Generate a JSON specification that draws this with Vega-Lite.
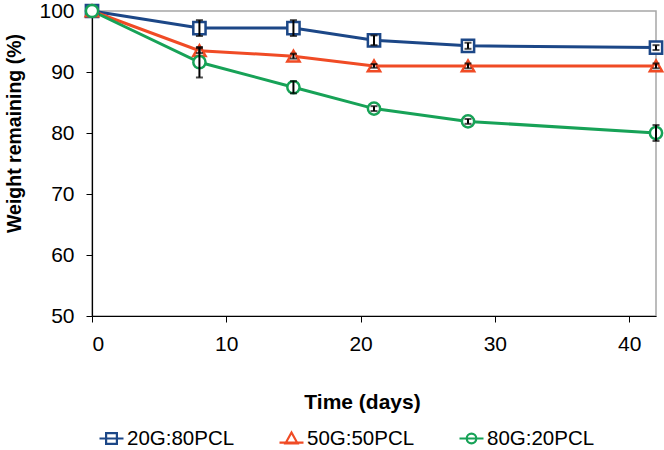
{
  "$schema": "https://vega.github.io/schema/vega-lite/v6.json",
  "width": 564,
  "height": 305,
  "autosize": "none",
  "padding": {"left": 92, "top": 11, "right": 8, "bottom": 134},
  "background": "white",
  "config": {
    "font": "Liberation Sans",
    "view": {"stroke": "#a6a6a6", "strokeWidth": 1.5},
    "axis": {
      "domainColor": "#000000",
      "domainWidth": 1.2,
      "tickColor": "#000000",
      "tickSize": 6,
      "grid": false,
      "labelFont": "Liberation Sans",
      "labelFontSize": 21,
      "labelColor": "#000000",
      "titleFont": "Liberation Sans",
      "titleFontWeight": "bold",
      "titleColor": "#000000"
    },
    "legend": {
      "labelFont": "Liberation Sans",
      "labelFontSize": 20.5,
      "labelColor": "#000000"
    }
  },
  "data": {
    "values": [
      {"series": "20G:80PCL", "day": 0, "w": 100, "err": 0},
      {"series": "20G:80PCL", "day": 8, "w": 97.2, "err": 1.3},
      {"series": "20G:80PCL", "day": 15, "w": 97.2, "err": 1.3},
      {"series": "20G:80PCL", "day": 21, "w": 95.2, "err": 0.8},
      {"series": "20G:80PCL", "day": 28, "w": 94.3, "err": 0.5},
      {"series": "20G:80PCL", "day": 42, "w": 94.0, "err": 0.4},
      {"series": "50G:50PCL", "day": 0, "w": 100, "err": 0},
      {"series": "50G:50PCL", "day": 8, "w": 93.5, "err": 0.4},
      {"series": "50G:50PCL", "day": 15, "w": 92.6, "err": 0.4},
      {"series": "50G:50PCL", "day": 21, "w": 91.0, "err": 0.3},
      {"series": "50G:50PCL", "day": 28, "w": 91.0, "err": 0.4},
      {"series": "50G:50PCL", "day": 42, "w": 91.0, "err": 0.4},
      {"series": "80G:20PCL", "day": 0, "w": 100, "err": 0},
      {"series": "80G:20PCL", "day": 8, "w": 91.6, "err": 2.5},
      {"series": "80G:20PCL", "day": 15, "w": 87.5, "err": 1.0},
      {"series": "80G:20PCL", "day": 21, "w": 84.0, "err": 0.4},
      {"series": "80G:20PCL", "day": 28, "w": 81.9, "err": 0.4},
      {"series": "80G:20PCL", "day": 42, "w": 80.0, "err": 1.3}
    ]
  },
  "encoding": {
    "x": {
      "field": "day", "type": "quantitative",
      "scale": {"domain": [0, 42], "nice": false},
      "axis": {"values": [0, 10, 20, 30, 40], "title": "Time (days)", "labelPadding": 11, "titleFontSize": 21, "titleX": 270, "titleY": 86, "titleBaseline": "middle", "titleAnchor": "start", "titleAlign": "center"}
    },
    "y": {
      "field": "w", "type": "quantitative",
      "scale": {"domain": [50, 100], "nice": false, "zero": false},
      "axis": {"values": [50, 60, 70, 80, 90, 100], "title": "Weight remaining (%)", "labelPadding": 12, "titleFontSize": 19.5, "titleX": -78, "titleY": 122, "titleBaseline": "middle", "titleAlign": "center", "titleAngle": -90}
    },
    "color": {
      "field": "series", "type": "nominal",
      "scale": {"domain": ["20G:80PCL", "50G:50PCL", "80G:20PCL"], "range": ["#1c4787", "#f04b25", "#17a257"]},
      "legend": {
        "orient": "none",
        "legendX": 6,
        "legendY": 414,
        "direction": "horizontal",
        "title": null,
        "columnPadding": 40,
        "labelOffset": 2,
        "symbolSize": 576,
        "symbolStrokeWidth": 2.2,
        "symbolFillColor": "white",
        "symbolOpacity": 1
      }
    }
  },
  "layer": [
    {
      "mark": {"type": "line", "strokeWidth": 3}
    },
    {
      "mark": {"type": "point", "filled": false, "size": 0, "strokeWidth": 0},
      "encoding": {
        "shape": {
          "field": "series", "type": "nominal",
          "scale": {"domain": ["20G:80PCL", "50G:50PCL", "80G:20PCL"], "range": ["M-1,0H1M-0.45,-0.45H0.45V0.45H-0.45Z", "M-1,0.35H1M0,-0.5L0.5,0.4H-0.5Z", "M-1,0H1M0.4,0A0.4,0.4 0 1 1 -0.4,0A0.4,0.4 0 1 1 0.4,0Z"]},
          "legend": {
            "orient": "none",
            "legendX": 6,
            "legendY": 414,
            "direction": "horizontal",
            "title": null,
            "columnPadding": 40,
            "labelOffset": 2,
            "symbolSize": 576,
            "symbolStrokeWidth": 2.2,
            "symbolFillColor": "white",
            "symbolOpacity": 1
          }
        }
      }
    },
    {
      "transform": [{"filter": "datum.series === '20G:80PCL'"}],
      "mark": {"type": "point", "shape": "square", "filled": false, "fill": "white", "fillOpacity": 1, "strokeWidth": 2.5, "size": 150, "opacity": 1}
    },
    {
      "transform": [{"filter": "datum.series === '50G:50PCL'"}],
      "mark": {"type": "point", "shape": "triangle-up", "filled": false, "fill": "white", "fillOpacity": 1, "strokeWidth": 2.5, "size": 150, "opacity": 1}
    },
    {
      "transform": [{"filter": "datum.series === '80G:20PCL'"}],
      "mark": {"type": "point", "shape": "circle", "filled": false, "fill": "white", "fillOpacity": 1, "strokeWidth": 2.5, "size": 150, "opacity": 1}
    },
    {
      "transform": [{"filter": "datum.err > 0"}],
      "mark": {"type": "errorbar", "ticks": {"size": 7, "thickness": 2}, "rule": {"strokeWidth": 2}},
      "encoding": {
        "y": {"field": "w", "type": "quantitative"},
        "yError": {"field": "err"},
        "detail": {"field": "series"},
        "color": {"value": "black"}
      }
    }
  ]
}
